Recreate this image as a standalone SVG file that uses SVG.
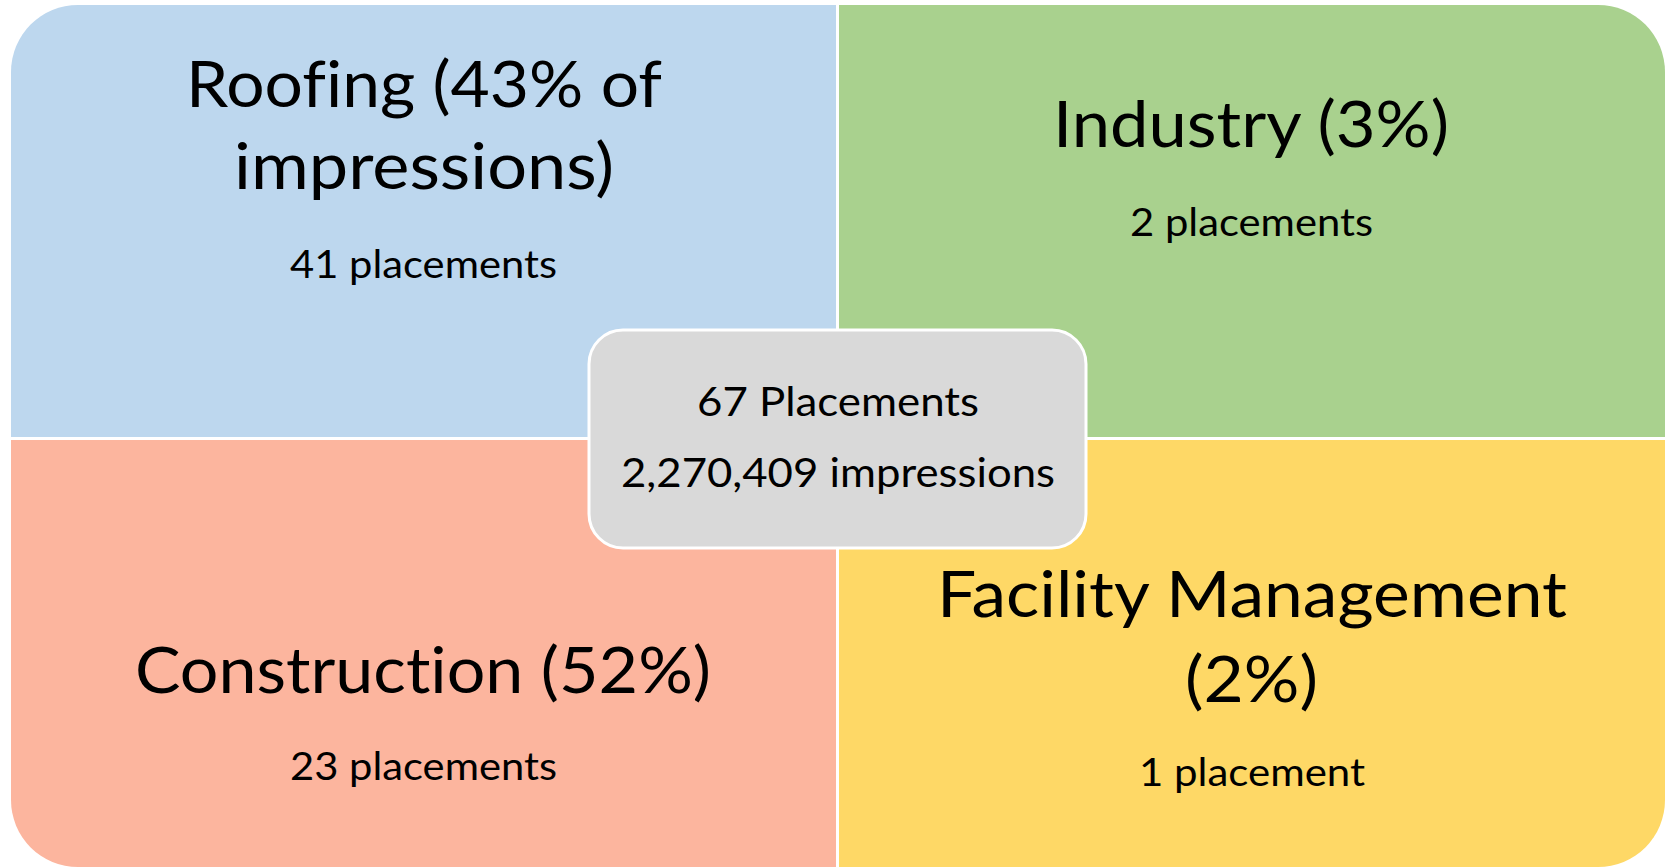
<svg xmlns="http://www.w3.org/2000/svg" width="1669" height="867" viewBox="0 0 1669 867">
<style>
.t{font-family:Lato,"Open Sans","Liberation Sans",sans-serif;fill:#000;text-anchor:middle;font-variant-ligatures:none;font-feature-settings:"liga" 0,"clig" 0,"dlig" 0}
.big{font-size:64px}
.small{font-size:38px}
.mid{font-size:40px}
</style>
<rect width="1669" height="867" fill="#fff"/>
<g id="roofing">
<path d="M11,72 A67,67 0 0 1 78,5 H836 V437 H11 Z" fill="#BDD7EE"/>
<text class="t big" x="424" y="107" textLength="476" lengthAdjust="spacingAndGlyphs">Roofing (43% of</text>
<text class="t big" x="424" y="189" textLength="380" lengthAdjust="spacingAndGlyphs">impressions)</text>
<text class="t small" x="423.5" y="278" textLength="267" lengthAdjust="spacingAndGlyphs">41 placements</text>
</g>
<g id="industry">
<path d="M839,5 H1598 A67,67 0 0 1 1665,72 V437 H839 Z" fill="#A9D18E"/>
<text class="t big" x="1251" y="147" textLength="396" lengthAdjust="spacingAndGlyphs">Industry (3%)</text>
<text class="t small" x="1251.5" y="236" textLength="243" lengthAdjust="spacingAndGlyphs">2 placements</text>
</g>
<g id="construction">
<path d="M11,440 H836 V867 H78 A67,67 0 0 1 11,800 Z" fill="#FCB59E"/>
<text class="t big" x="423" y="693" textLength="576" lengthAdjust="spacingAndGlyphs">Construction (52%)</text>
<text class="t small" x="423.5" y="780" textLength="267" lengthAdjust="spacingAndGlyphs">23 placements</text>
</g>
<g id="facility">
<path d="M839,440 H1665 V800 A67,67 0 0 1 1598,867 H839 Z" fill="#FED866"/>
<text class="t big" x="1252" y="617" textLength="630" lengthAdjust="spacingAndGlyphs">Facility Management</text>
<text class="t big" x="1251.5" y="702" textLength="133" lengthAdjust="spacingAndGlyphs">(2%)</text>
<text class="t small" x="1252" y="786" textLength="226" lengthAdjust="spacingAndGlyphs">1 placement</text>
</g>
<g id="total">
<rect x="589" y="330" width="497" height="218" rx="34" ry="34" fill="#D9D9D9" stroke="#fff" stroke-width="3"/>
<text class="t mid" x="838" y="416" textLength="282" lengthAdjust="spacingAndGlyphs">67 Placements</text>
<text class="t mid" x="838" y="487" textLength="434" lengthAdjust="spacingAndGlyphs">2,270,409 impressions</text>
</g>
<g id="connectors"/>
</svg>
